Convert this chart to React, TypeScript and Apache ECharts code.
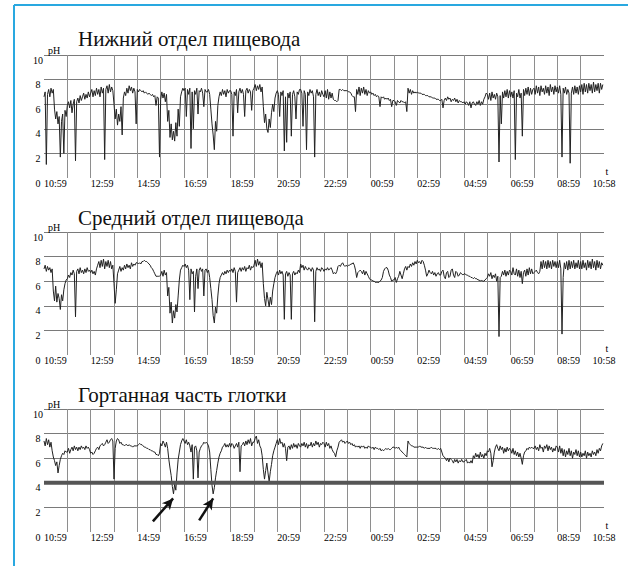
import { useEffect, useRef } from 'react';
import * as echarts from 'echarts';

// 24-hour ambulatory pH recording, one reading every 3 minutes starting at 10:59.
const STEP_MIN = 3;
const DAY_MIN = 1440;

const TITLES = ['Нижний отдел пищевода', 'Средний отдел пищевода', 'Гортанная часть глотки'];
const TIME_LABELS = ['10:59', '12:59', '14:59', '16:59', '18:59', '20:59', '22:59', '00:59', '02:59', '04:59', '06:59', '08:59', '10:58'];
const REFLUX_THRESHOLD = 4;

// One row per hour (20 readings each).
const LOWER_ESOPHAGUS = [
  [6.6, 7.0, 1.1, 6.8, 7.2, 6.6, 7.3, 6.9, 7.2, 5.6, 4.8, 5.4, 4.4, 5.0, 1.7, 4.6, 5.2, 2.0, 5.5, 5.0],
  [5.9, 6.2, 5.7, 6.3, 5.3, 6.0, 6.4, 1.4, 6.2, 6.5, 6.1, 6.7, 6.3, 6.6, 6.9, 6.4, 6.8, 6.5, 7.0, 6.6],
  [6.9, 7.2, 6.6, 7.1, 6.7, 7.3, 6.8, 7.2, 6.6, 7.4, 6.9, 7.3, 1.5, 7.2, 7.5, 6.9, 7.6, 7.0, 7.4, 7.1],
  [6.0, 4.8, 5.6, 4.3, 5.2, 4.6, 5.8, 3.5, 6.5, 7.0, 6.7, 7.3, 6.9, 7.5, 7.1, 7.4, 6.9, 7.3, 7.0, 4.4],
  [7.2, 7.0, 7.2, 7.1, 7.0, 7.1, 6.9, 7.0, 6.9, 6.8, 6.9, 6.8, 6.7, 6.8, 6.6, 6.7, 5.9, 6.6, 6.5, 1.7],
  [6.4, 7.0, 6.5, 6.9, 6.2, 6.8, 4.6, 5.5, 3.3, 4.4, 3.1, 3.8, 3.0, 4.5, 3.4, 5.6, 4.2, 6.6, 7.0, 7.3],
  [7.1, 7.3, 5.0, 7.2, 6.8, 7.3, 2.4, 7.0, 4.0, 7.1, 6.8, 7.3, 5.2, 7.1, 7.0, 7.3, 6.9, 5.8, 7.2, 7.0],
  [7.0, 7.2, 6.8, 5.6, 4.4, 3.5, 2.3, 4.6, 3.8, 5.9, 6.6, 7.0, 6.7, 7.2, 6.8, 7.1, 6.6, 7.2, 6.9, 7.1],
  [7.1, 6.8, 3.4, 7.0, 6.7, 7.2, 5.3, 7.0, 7.3, 6.9, 7.2, 6.8, 5.0, 7.1, 7.3, 6.9, 7.2, 7.0, 5.5, 7.1],
  [7.3, 7.6, 7.1, 7.5, 7.2, 7.6, 7.0, 7.4, 5.8, 4.5, 5.2, 4.0, 3.7, 4.8, 4.1, 5.3, 6.0, 5.4, 6.5, 6.9],
  [7.1, 6.8, 5.0, 7.0, 6.7, 7.1, 2.2, 6.6, 2.9, 6.9, 6.5, 7.0, 3.4, 6.8, 7.1, 6.6, 4.8, 7.0, 6.8, 7.2],
  [7.2, 6.9, 4.2, 7.1, 6.8, 2.3, 7.0, 6.7, 7.2, 6.9, 7.1, 6.6, 1.7, 6.8, 7.2, 6.7, 7.0, 6.6, 7.1, 6.8],
  [6.6, 7.1, 6.5, 7.2, 6.4, 7.0, 6.5, 6.9, 6.4, 6.3, 6.3, 6.2, 6.3, 7.2, 7.2, 7.1, 7.2, 7.1, 7.1, 7.1],
  [7.1, 7.0, 7.0, 6.9, 6.7, 6.6, 6.6, 5.4, 7.2, 6.8, 7.4, 6.7, 7.3, 6.9, 7.4, 6.8, 7.2, 6.7, 7.1, 6.9],
  [7.0, 6.8, 6.9, 6.7, 6.8, 6.6, 6.7, 6.6, 5.8, 6.6, 6.5, 6.6, 6.4, 6.5, 6.4, 6.5, 6.3, 6.4, 5.8, 6.3],
  [6.3, 6.2, 5.9, 6.3, 6.2, 6.1, 6.3, 6.2, 6.2, 6.1, 6.2, 5.4, 7.3, 6.9, 7.2, 6.8, 7.1, 6.9, 7.0, 6.9],
  [7.0, 6.9, 6.9, 6.9, 6.8, 6.8, 6.8, 6.7, 6.7, 6.7, 6.6, 6.6, 6.6, 6.5, 6.5, 6.5, 6.4, 6.4, 6.4, 6.3],
  [6.3, 6.4, 5.7, 6.3, 6.5, 6.3, 6.6, 6.4, 6.5, 6.2, 6.4, 6.3, 6.5, 6.2, 6.4, 6.1, 6.3, 6.2, 6.2, 6.1],
  [6.2, 6.0, 6.2, 6.1, 5.9, 6.2, 5.7, 6.1, 6.2, 6.0, 5.9, 6.2, 6.0, 6.3, 5.9, 6.2, 6.0, 6.4, 6.6, 6.9],
  [6.8, 6.4, 6.9, 6.3, 7.0, 6.5, 6.8, 6.4, 6.9, 6.6, 1.3, 6.7, 4.4, 7.0, 6.5, 7.1, 6.6, 7.2, 6.5, 7.1],
  [6.6, 7.0, 6.5, 7.1, 1.5, 6.9, 6.6, 7.2, 6.5, 6.9, 3.4, 7.2, 6.7, 7.3, 6.8, 7.4, 6.7, 7.3, 6.8, 7.2],
  [7.3, 6.8, 7.5, 6.9, 7.4, 6.7, 7.5, 7.0, 7.3, 6.8, 7.5, 6.9, 7.4, 6.7, 7.6, 7.0, 7.4, 6.8, 7.5, 7.0],
  [7.4, 6.9, 7.5, 6.8, 1.7, 7.3, 6.9, 7.4, 6.8, 7.2, 6.9, 1.2, 6.9, 7.4, 6.8, 7.5, 6.9, 7.4, 6.8, 7.5],
  [7.0, 7.6, 6.8, 7.7, 7.0, 7.6, 6.9, 7.7, 7.1, 7.6, 6.9, 7.8, 7.0, 7.6, 7.1, 7.7, 6.9, 7.7, 7.2, 7.6],
].flat();

const MIDDLE_ESOPHAGUS = [
  [7.0, 7.3, 6.8, 7.2, 6.9, 7.1, 6.7, 7.0, 5.2, 4.4, 5.6, 4.3, 5.0, 4.6, 3.7, 4.9, 4.4, 5.3, 5.8, 6.1],
  [6.2, 6.5, 6.3, 6.7, 6.5, 6.9, 6.6, 3.1, 6.8, 7.0, 6.6, 7.1, 6.7, 6.9, 6.6, 7.0, 6.7, 7.1, 6.8, 6.9],
  [6.7, 6.9, 6.6, 6.8, 6.5, 7.0, 7.3, 7.6, 7.1, 7.7, 7.2, 7.8, 7.0, 7.6, 7.2, 7.7, 7.1, 7.6, 7.0, 7.3],
  [5.8, 4.2, 5.3, 6.6, 6.9, 7.2, 6.8, 7.1, 6.9, 7.3, 7.0, 7.4, 7.1, 7.3, 7.0, 7.5, 7.2, 7.4, 7.3, 7.5],
  [7.5, 7.4, 7.5, 7.4, 7.6, 7.6, 7.7, 7.6, 7.6, 7.5, 7.4, 7.3, 7.1, 7.0, 6.8, 6.6, 6.4, 6.4, 6.4, 6.4],
  [6.5, 6.8, 6.4, 6.9, 6.5, 6.7, 4.8, 5.5, 3.4, 4.3, 2.6, 3.6, 3.0, 4.1, 3.5, 4.8, 6.1, 6.9, 7.1, 7.3],
  [7.2, 7.4, 7.1, 7.3, 6.9, 4.5, 7.0, 6.6, 6.8, 3.5, 6.4, 7.0, 5.4, 6.9, 7.1, 6.8, 7.0, 4.8, 6.9, 7.0],
  [6.7, 6.9, 6.3, 5.4, 4.5, 3.2, 2.6, 3.9, 3.4, 4.8, 5.8, 6.3, 6.5, 6.7, 6.5, 6.8, 6.6, 6.9, 6.7, 6.9],
  [6.8, 7.0, 6.7, 7.1, 6.8, 4.3, 6.7, 6.9, 7.1, 6.8, 7.1, 6.9, 7.2, 6.8, 7.1, 7.0, 7.3, 6.9, 7.2, 7.1],
  [7.3, 7.7, 7.2, 7.8, 7.3, 7.6, 7.1, 7.5, 5.8, 4.6, 4.0, 5.1, 4.5, 3.9, 4.7, 4.1, 5.2, 5.8, 6.3, 6.6],
  [6.8, 6.5, 6.9, 6.6, 6.8, 6.5, 2.9, 6.6, 6.8, 6.4, 6.7, 6.5, 2.9, 6.6, 6.8, 6.5, 6.7, 6.6, 6.9, 6.7],
  [7.4, 7.1, 7.3, 6.9, 7.2, 7.0, 6.9, 7.1, 7.0, 6.8, 7.1, 6.9, 2.7, 6.8, 7.1, 6.9, 7.0, 6.8, 7.1, 7.0],
  [6.8, 7.0, 6.9, 7.1, 6.9, 7.0, 7.1, 6.9, 6.6, 6.7, 6.6, 6.8, 7.2, 7.3, 7.2, 7.4, 7.5, 7.3, 7.2, 7.3],
  [7.2, 7.3, 7.3, 7.4, 7.4, 7.5, 7.3, 6.9, 6.3, 6.7, 6.8, 6.9, 6.8, 6.6, 6.9, 6.5, 6.8, 6.6, 6.4, 6.2],
  [6.1, 6.1, 6.0, 6.0, 5.9, 5.9, 5.9, 5.9, 6.0, 6.1, 6.3, 6.8, 7.0, 7.1, 7.1, 6.9, 6.5, 6.3, 6.0, 6.1],
  [6.1, 6.3, 5.9, 6.2, 6.4, 6.8, 6.5, 6.2, 6.6, 7.0, 7.2, 6.9, 7.2, 7.1, 7.4, 7.2, 7.5, 7.3, 7.6, 7.4],
  [7.7, 7.5, 7.6, 7.4, 7.7, 7.6, 7.3, 6.9, 6.4, 6.6, 6.9, 6.7, 6.6, 6.8, 6.5, 6.7, 6.4, 6.6, 6.7, 6.5],
  [6.5, 6.8, 6.9, 6.4, 6.2, 6.7, 6.8, 6.3, 6.4, 6.9, 7.0, 6.5, 6.3, 6.8, 6.7, 6.4, 6.5, 6.7, 6.6, 6.5],
  [6.6, 6.6, 6.5, 6.5, 6.4, 6.4, 6.3, 6.3, 6.2, 6.3, 6.2, 6.2, 6.1, 6.1, 6.0, 6.1, 6.0, 6.0, 6.1, 6.2],
  [6.3, 6.6, 6.4, 6.7, 6.2, 6.5, 6.3, 6.6, 6.0, 6.4, 1.5, 6.3, 6.4, 6.8, 6.5, 6.9, 6.4, 6.8, 6.5, 6.9],
  [6.8, 6.5, 7.1, 6.6, 6.5, 7.0, 6.4, 6.9, 6.3, 6.8, 5.8, 6.7, 6.9, 6.4, 7.0, 6.5, 7.1, 6.6, 7.0, 6.6],
  [6.7, 6.8, 6.9, 6.7, 6.6, 6.8, 7.6, 7.0, 7.7, 7.1, 7.6, 7.0, 7.7, 7.1, 7.6, 7.0, 7.7, 7.2, 7.6, 7.1],
  [7.6, 7.1, 7.7, 7.0, 1.7, 6.3, 7.5, 7.0, 7.6, 6.9, 7.7, 7.0, 7.6, 7.1, 7.7, 7.0, 7.5, 7.1, 7.7, 7.0],
  [7.6, 7.0, 7.7, 7.1, 7.5, 6.9, 7.7, 7.1, 7.6, 7.0, 7.8, 7.1, 7.6, 6.9, 7.7, 7.1, 7.6, 7.0, 7.5, 7.3],
].flat();

const LARYNGOPHARYNX = [
  [7.4, 7.0, 7.6, 7.1, 7.5, 6.9, 7.3, 6.6, 6.1, 5.8, 5.4, 5.7, 4.8, 5.4, 5.9, 6.2, 6.4, 6.3, 6.6, 6.5],
  [6.5, 6.8, 6.4, 6.7, 6.9, 6.6, 7.0, 6.7, 6.9, 6.6, 6.9, 6.7, 7.0, 6.8, 6.9, 6.7, 7.0, 6.8, 6.9, 6.7],
  [6.4, 6.5, 6.3, 6.4, 6.6, 6.8, 6.9, 6.7, 7.0, 7.1, 7.2, 7.0, 7.1, 7.3, 7.5, 7.2, 7.3, 7.5, 7.6, 7.4],
  [4.3, 6.8, 7.4, 7.6, 7.5, 7.2, 7.3, 7.1, 7.1, 7.0, 7.1, 7.1, 7.0, 7.1, 7.0, 7.0, 6.9, 7.0, 7.0, 7.0],
  [7.0, 7.1, 7.2, 7.1, 7.1, 7.0, 6.9, 6.9, 6.8, 6.8, 6.7, 6.7, 6.6, 6.6, 6.5, 6.5, 6.3, 6.3, 6.2, 6.4],
  [7.2, 7.0, 7.4, 7.2, 6.9, 7.3, 6.8, 5.9, 5.2, 4.6, 3.7, 3.1, 3.9, 3.4, 4.8, 5.9, 6.5, 7.1, 7.4, 7.6],
  [7.4, 7.2, 7.5, 7.1, 7.3, 7.0, 6.5, 7.1, 4.3, 6.9, 7.0, 6.6, 4.4, 6.5, 6.8, 7.0, 7.1, 7.3, 7.2, 7.3],
  [7.2, 7.0, 6.5, 5.1, 3.8, 3.1, 3.6, 4.4, 5.0, 5.6, 6.1, 6.4, 6.6, 6.9, 7.0, 7.2, 6.9, 7.1, 6.9, 7.2],
  [6.9, 7.2, 7.1, 6.8, 7.0, 7.2, 6.9, 7.3, 4.9, 7.0, 7.1, 7.3, 7.0, 7.4, 7.1, 7.5, 7.2, 7.6, 7.0, 7.3],
  [7.3, 7.6, 7.8, 7.2, 7.5, 7.0, 6.8, 6.2, 5.1, 4.3, 5.0, 5.6, 4.8, 4.1, 4.9, 5.5, 6.2, 6.6, 6.9, 7.2],
  [7.5, 7.1, 7.6, 7.2, 7.3, 6.9, 7.2, 6.8, 5.8, 6.9, 7.0, 6.7, 7.1, 6.8, 7.2, 6.9, 7.1, 6.8, 7.2, 7.0],
  [6.9, 7.2, 7.0, 7.3, 6.9, 7.2, 6.8, 7.1, 7.0, 7.3, 6.9, 7.2, 7.0, 7.4, 7.1, 7.3, 6.9, 7.2, 7.1, 7.3],
  [7.2, 6.9, 7.3, 7.0, 7.2, 6.8, 7.0, 6.7, 6.5, 6.4, 6.1, 6.6, 6.9, 7.3, 7.4, 7.5, 7.3, 7.4, 7.2, 7.3],
  [7.4, 7.2, 7.3, 7.1, 7.2, 7.0, 7.1, 6.9, 7.0, 6.9, 7.0, 6.8, 7.0, 6.9, 7.0, 6.8, 6.9, 6.8, 7.0, 6.9],
  [6.9, 6.8, 6.9, 6.7, 6.9, 6.8, 6.8, 6.7, 6.8, 6.6, 6.7, 6.6, 6.7, 6.8, 6.7, 6.8, 6.7, 6.7, 6.8, 6.9],
  [6.9, 6.8, 6.9, 6.8, 6.9, 6.7, 6.6, 6.5, 6.4, 6.3, 6.2, 6.1, 7.4, 7.2, 7.1, 7.0, 7.0, 6.9, 6.9, 6.9],
  [6.9, 6.9, 7.0, 6.9, 6.9, 6.9, 6.8, 6.9, 6.8, 6.8, 6.8, 6.8, 6.9, 6.8, 6.8, 6.8, 6.8, 6.7, 6.8, 6.7],
  [6.8, 6.5, 6.2, 6.1, 6.0, 5.8, 6.0, 5.7, 6.0, 5.9, 5.8, 5.6, 5.9, 5.7, 5.9, 5.6, 5.8, 5.7, 5.9, 5.7],
  [5.7, 5.8, 5.9, 5.6, 5.7, 5.6, 5.8, 5.6, 6.2, 6.0, 6.4, 6.1, 6.3, 6.0, 6.5, 6.1, 6.3, 6.0, 6.4, 6.2],
  [6.6, 6.5, 6.8, 6.4, 5.3, 5.8, 6.5, 6.9, 7.1, 6.8, 6.6, 7.0, 6.7, 6.9, 6.4, 6.8, 6.5, 6.9, 6.6, 6.8],
  [6.7, 6.4, 6.8, 6.3, 6.6, 6.2, 6.5, 6.1, 6.4, 6.0, 5.5, 6.2, 6.5, 6.6, 6.8, 6.7, 6.9, 6.8, 6.9, 6.8],
  [6.8, 7.0, 6.7, 6.9, 6.6, 7.1, 6.8, 6.9, 6.5, 7.0, 6.8, 7.1, 6.6, 7.0, 6.7, 6.9, 6.5, 6.8, 6.6, 7.0],
  [6.9, 6.5, 7.0, 6.4, 6.8, 6.2, 6.7, 6.1, 6.6, 6.3, 6.8, 6.2, 6.6, 6.0, 6.5, 6.3, 6.7, 6.2, 6.6, 6.1],
  [6.5, 6.1, 6.4, 6.2, 6.6, 6.0, 6.5, 6.2, 6.4, 6.1, 6.6, 6.3, 6.5, 6.2, 6.7, 6.4, 6.8, 6.6, 7.0, 7.2],
].flat();

// Arrows pointing at the two pharyngeal reflux episodes: [tail, head] in (minutes, pH).
const REFLUX_ARROWS = [
  [[280, 0.86], [332, 2.73]],
  [[399, 0.94], [435, 2.73]],
];

const PANELS = [LOWER_ESOPHAGUS, MIDDLE_ESOPHAGUS, LARYNGOPHARYNX];

const SERIF = 'Liberation Serif';
const PANEL_TOP = 55;
const PANEL_PITCH = 177;
const TITLE_TOPS = [28.5, 207.5, 384.5];

export default function App() {
  const ref = useRef<HTMLDivElement>(null);

  useEffect(() => {
    if (!ref.current) return;
    const chart = echarts.init(ref.current, undefined, { renderer: 'svg' });

    const toPoints = (vals: number[]) => vals.map((v, k) => [k * STEP_MIN, v]);

    const option: any = {
      animation: false,
      backgroundColor: '#ffffff',
      title: TITLES.map((text, i) => ({
        text,
        left: 78,
        top: TITLE_TOPS[i],
        padding: 0,
        textStyle: { fontFamily: SERIF, fontSize: 21, fontWeight: 'normal', color: '#111111' },
      })),
      grid: PANELS.map((_, i) => ({
        left: 44,
        top: PANEL_TOP + i * PANEL_PITCH,
        width: 560,
        height: 123,
        outerBoundsMode: 'none',
        containLabel: false,
      })),
      xAxis: PANELS.map((_, i) => ({
        type: 'value',
        gridIndex: i,
        min: 0,
        max: DAY_MIN,
        interval: 60,
        axisLine: { show: false },
        axisTick: { show: false },
        splitLine: {
          show: true,
          showMinLine: false,
          showMaxLine: false,
          lineStyle: { color: '#8e8e8e', width: 1 },
        },
        axisLabel: {
          margin: 0,
          align: 'left',
          alignMaxLabel: 'center',
          fontFamily: SERIF,
          fontSize: 10,
          color: '#000000',
          formatter: (v: number) => (v % 120 === 0 ? TIME_LABELS[v / 120] : ''),
        },
        name: 't',
        nameLocation: 'end',
        nameGap: 3,
        nameTextStyle: {
          fontFamily: SERIF,
          fontSize: 10,
          color: '#000000',
          align: 'center',
          verticalAlign: 'bottom',
          padding: [0, 0, 2, 0],
        },
      })),
      yAxis: PANELS.map((_, i) => ({
        type: 'value',
        gridIndex: i,
        min: 0,
        max: 10,
        interval: 2,
        axisLine: { show: false },
        axisTick: { show: false },
        splitLine: {
          show: true,
          showMinLine: false,
          lineStyle: { color: '#7a7a7a', width: 1 },
        },
        axisLabel: {
          margin: 6,
          align: 'center',
          verticalAlign: 'top',
          fontFamily: SERIF,
          fontSize: 10,
          color: '#000000',
        },
        name: 'pH',
        nameLocation: 'end',
        nameGap: 0,
        nameTextStyle: {
          fontFamily: SERIF,
          fontSize: 10,
          color: '#000000',
          align: 'left',
          verticalAlign: 'bottom',
          padding: [0, 0, 0, 4],
        },
      })),
      series: [
        ...PANELS.map((vals, i) => ({
          type: 'line',
          xAxisIndex: i,
          yAxisIndex: i,
          data: toPoints(vals),
          symbol: 'none',
          showSymbol: false,
          silent: true,
          z: 3,
          lineStyle: { color: '#222222', width: 1 },
          markLine:
            i === 2
              ? {
                  silent: true,
                  symbol: ['none', 'arrow'],
                  symbolSize: [8, 11],
                  label: { show: false },
                  lineStyle: { color: '#111111', width: 2.5, type: 'solid' },
                  data: REFLUX_ARROWS.map(([from, to]) => [{ coord: from }, { coord: to }]),
                }
              : undefined,
        })),
        {
          type: 'line',
          xAxisIndex: 2,
          yAxisIndex: 2,
          data: [
            [0, REFLUX_THRESHOLD],
            [DAY_MIN, REFLUX_THRESHOLD],
          ],
          symbol: 'none',
          silent: true,
          z: 4,
          lineStyle: { color: '#555555', width: 4 },
        },
      ],
      graphic: [
        { type: 'line', shape: { x1: 14, y1: 5, x2: 628, y2: 5 }, style: { stroke: '#29a8e0', lineWidth: 2 } },
        { type: 'line', shape: { x1: 14, y1: 5, x2: 14, y2: 566 }, style: { stroke: '#29a8e0', lineWidth: 2 } },
      ],
    };

    chart.setOption(option);
    return () => chart.dispose();
  }, []);

  return (
    <div
      ref={ref}
      style={{ position: 'fixed', left: 0, top: 0, width: 628, height: 566, background: '#fff' }}
    />
  );
}
